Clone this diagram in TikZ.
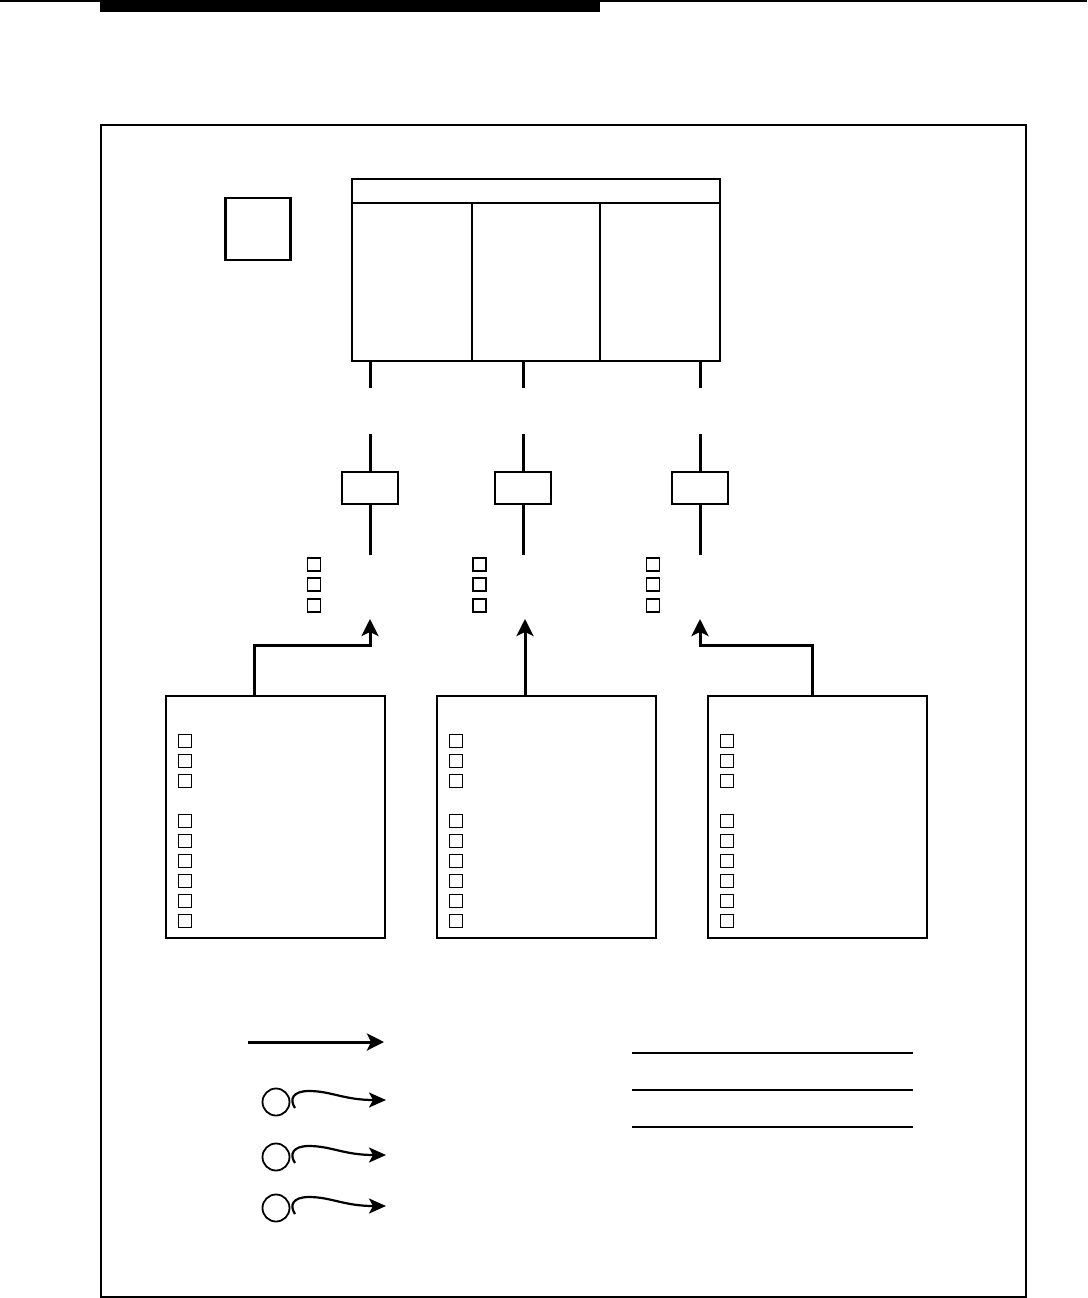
\documentclass[tikz,border=0pt]{standalone}
\usetikzlibrary{arrows.meta}
\begin{document}
\begin{tikzpicture}[x=1pt,y=-1pt,
  box/.style={draw, line width=2.2pt, rectangle, inner sep=0pt},
  sq/.style={draw, line width=1.9pt, rectangle, minimum size=13pt, inner sep=0pt},
  conn/.style={line width=3pt},
  arr/.style={line width=3pt, -{Stealth[length=17pt,width=17pt,inset=4pt]}},
  wavy/.style={line width=2.2pt, -{Stealth[length=17pt,width=15pt,inset=4pt]}},
  rule/.style={line width=1.4pt}]
\useasboundingbox (0,0) rectangle (1087,1298);
% page header
\draw[line width=2pt] (0,1) -- (1087,1);
\fill (100,0) rectangle (600,12);
% frame
\node[box, minimum width=925pt, minimum height=1172pt] (frame) at (563.5,711) {};
% small square
\node[box, minimum width=65pt, minimum height=62pt] (sbox) at (258,229) {};
% main box
\node[box, minimum width=368pt, minimum height=182pt] (main) at (536,270) {};
\coordinate (hl) at (352,203); \coordinate (hr) at (720,203);
\draw[line width=2.2pt] (hl) -- (hr);
\coordinate (d1t) at (472,203); \coordinate (d1b) at (472,361);
\coordinate (d2t) at (600,203); \coordinate (d2b) at (600,361);
\draw[line width=2.2pt] (d1t) -- (d1b);
\draw[line width=2.2pt] (d2t) -- (d2b);
% columns
\foreach \k/\x/\sx/\ax/\bx in {1/370/314/254/275.5, 2/523/479.5/525/546.5, 3/700/653/812/817.5} {
  \coordinate (st\k a) at (\x,361);
  \coordinate (st\k b) at (\x,388);
  \draw[conn] (st\k a) -- (st\k b);
  \node[box, minimum width=56pt, minimum height=32pt] (r\k) at (\x,488) {};
  \coordinate (rt\k) at (\x,434);
  \coordinate (rb\k) at (\x,555);
  \draw[conn] (rt\k) -- (r\k.north);
  \draw[conn] (r\k.south) -- (rb\k);
  \node[sq] (m\k a) at (\sx,564.5) {};
  \node[sq] (m\k b) at (\sx,584.5) {};
  \node[sq] (m\k c) at (\sx,605.5) {};
  \node[box, minimum width=219pt, minimum height=242pt] (b\k) at (\bx,817) {};
  \coordinate (tip\k) at (\x,619);
  \coordinate (src\k) at (\ax,696);
  \coordinate (bend\k) at (\ax,645);
  \foreach \j/\y in {1/741,2/761,3/781,4/821,5/841,6/861,7/881,8/901,9/921} {
    \node[sq] (b\k s\j) at ([xshift=-90.5pt]\bx,\y) {};
  }
}
\draw[arr] (src1) -- (bend1) -| (tip1);
\draw[arr] (src2) -- ([xshift=2pt]tip2);
\draw[arr] (src3) -- (bend3) -| (tip3);
% legend
\coordinate (la) at (248,1042); \coordinate (lb) at (384,1042);
\draw[arr] (la) -- (lb);
\foreach \k/\y in {1/1102,2/1157,3/1208} {
  \node[circle, draw, line width=1.8pt, minimum size=27pt, inner sep=0pt] (c\k) at (276,\y) {};
  \draw[wavy] ([shift={(19,6)}]c\k.center) .. controls ([shift={(13,-3)}]c\k.center) and ([shift={(17,-11)}]c\k.center) .. ([shift={(33,-11)}]c\k.center)
     .. controls ([shift={(55,-11)}]c\k.center) and ([shift={(68,-2)}]c\k.center) .. ([shift={(110,-2)}]c\k.center);
}
\coordinate (ra) at (632,1053); \coordinate (rb) at (913,1053);
\coordinate (rc) at (632,1090); \coordinate (rd) at (913,1090);
\coordinate (re) at (632,1127); \coordinate (rf) at (913,1127);
\draw[rule] (ra) -- (rb);
\draw[rule] (rc) -- (rd);
\draw[rule] (re) -- (rf);
\end{tikzpicture}
\end{document}
